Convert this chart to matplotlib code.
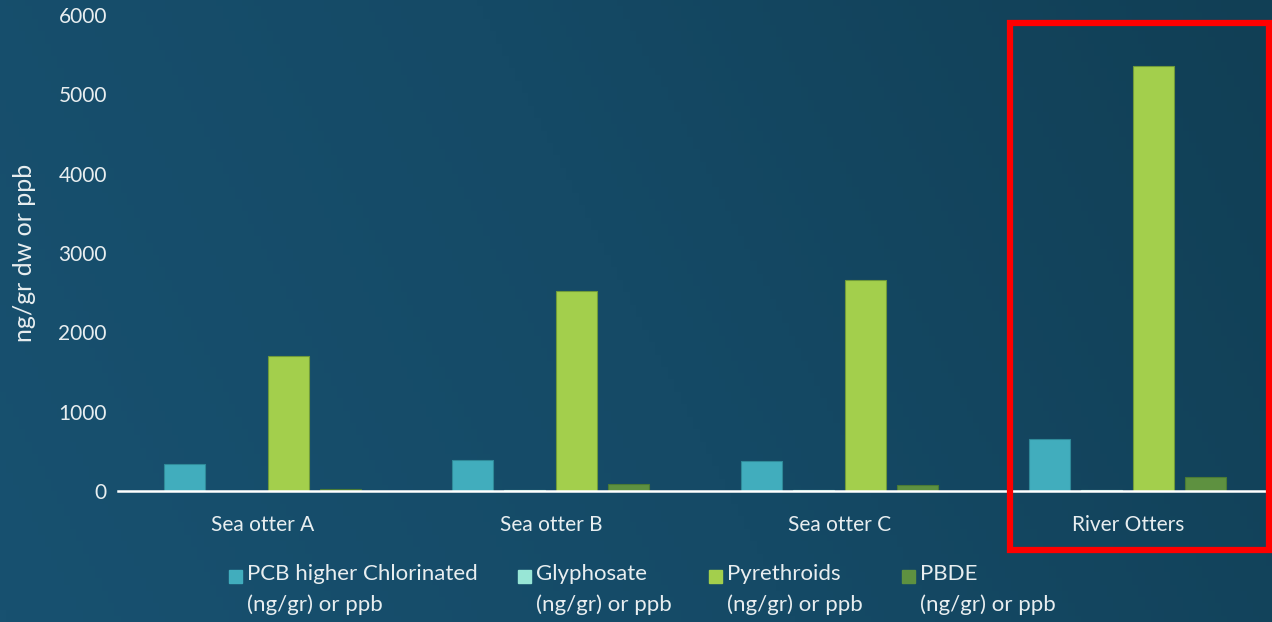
import matplotlib.pyplot as plt
import numpy as np
from matplotlib.patches import Rectangle
from matplotlib.colors import LinearSegmentedColormap

plt.rcParams['font.family'] = ['Lato', 'DejaVu Sans']

# contaminant levels per animal group
groups = ['Sea otter A', 'Sea otter B', 'Sea otter C', 'River Otters']
pcb = [340, 390, 380, 655]
glyphosate = [5, 10, 10, 15]
pyrethroids = [1700, 2520, 2660, 5355]
pbde = [25, 85, 72, 175]

series = [
    ('PCB higher Chlorinated\n(ng/gr) or ppb', pcb, '#41adbd', '#2f8a99'),
    ('Glyphosate\n(ng/gr) or ppb', glyphosate, '#98e6d6', '#6fbcb0'),
    ('Pyrethroids\n(ng/gr) or ppb', pyrethroids, '#a3cf4c', '#6f9a3a'),
    ('PBDE\n(ng/gr) or ppb', pbde, '#5e9140', '#4a7a35'),
]

fig = plt.figure(figsize=(12.72, 6.22), dpi=100)

# dark teal backdrop
bg = fig.add_axes([0, 0, 1, 1], zorder=-10)
cmap = LinearSegmentedColormap.from_list('bg', ['#185170', '#154a66', '#113f55'])
xx, yy = np.meshgrid(np.linspace(0, 1, 200), np.linspace(0, 1, 100))
bg.imshow(0.8 * xx + 0.2 * (1 - yy), cmap=cmap, aspect='auto', extent=[0, 1, 0, 1])
bg.axis('off')

ax = fig.add_axes([118 / 1272, 1 - 491 / 622, 1 - 118 / 1272, (491 - 15) / 622])
ax.patch.set_alpha(0)

x = np.arange(len(groups))
step = 0.18
width = 0.142
for i, (label, vals, col, edge) in enumerate(series):
    ax.bar(x + (i - 1.5) * step, vals, width, color=col, edgecolor=edge, linewidth=0.8, zorder=3)

ax.set_xlim(-0.5, 3.5)
ax.set_ylim(0, 6000)
ax.set_yticks(range(0, 6001, 1000))
ax.set_xticks(x)
ax.set_xticklabels(groups)
ax.tick_params(axis='both', length=0, colors='#e8eef0', labelsize=15)
ax.tick_params(axis='x', pad=17)
ax.tick_params(axis='y', pad=8)
for s in ['top', 'right', 'left']:
    ax.spines[s].set_visible(False)
ax.spines['bottom'].set_color('white')
ax.spines['bottom'].set_linewidth(1.8)
ax.spines['bottom'].set_zorder(4)
ax.set_ylabel('ng/gr dw or ppb', color='#e8eef0', fontsize=18)
ax.yaxis.set_label_coords(-82 / 1154, 0.5)

# legend row below the categories
legend_x = [229, 518, 709, 902]
for (label, vals, col, edge), lx in zip(series, legend_x):
    fig.patches.append(Rectangle((lx / 1272, 1 - 583 / 622), 13 / 1272, 13 / 622,
                                 transform=fig.transFigure, color=col))
    fig.text((lx + 18) / 1272, 1 - 564 / 622, label, color='#e8eef0', fontsize=16,
             va='top', ha='left', linespacing=1.6)

# highlight box around the river otter group
fig.patches.append(Rectangle((1010 / 1272, 1 - 550 / 622), 259 / 1272, 527 / 622,
                             transform=fig.transFigure, fill=False, edgecolor='#ff0000', linewidth=4.5))

fig.savefig('out.png', dpi=100)
